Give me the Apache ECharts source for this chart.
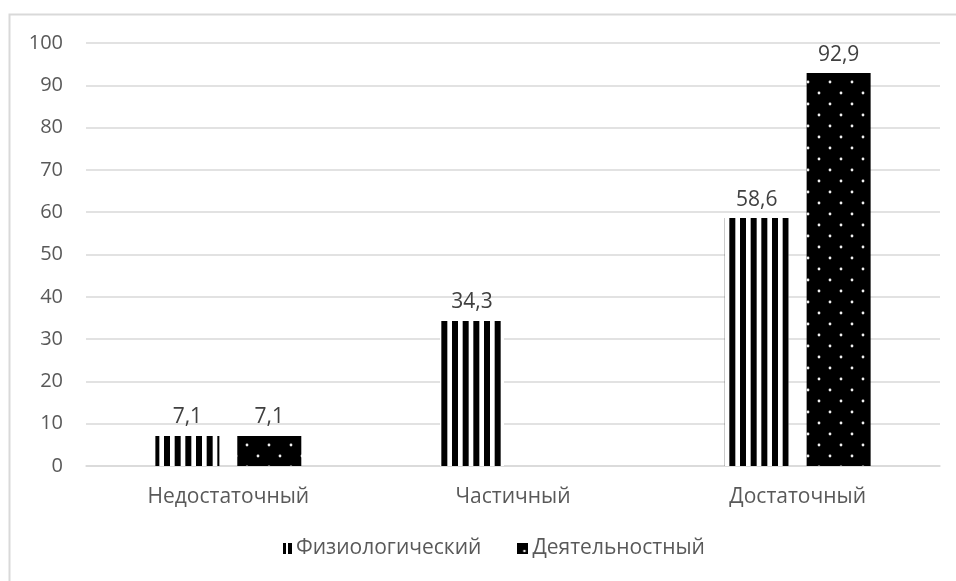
<!DOCTYPE html>
<html>
<head>
<meta charset="utf-8">
<script src="https://cdn.jsdelivr.net/npm/echarts@6/dist/echarts.min.js"></script>
<style>
  html, body { margin: 0; padding: 0; background: #fff; }
  #chart { width: 956px; height: 581px; }
</style>
</head>
<body>
<div id="chart"></div>
<script>
// Levels of formation and the share (%) for each component
const categories = ['Недостаточный', 'Частичный', 'Достаточный'];
const physValues = [7.1, 34.3, 58.6];
const activityValues = [7.1, null, 92.9];
const seriesNames = ['Физиологический', 'Деятельностный'];
const yTicks = { min: 0, max: 100, interval: 10 };

const FONT = '"Open Sans", "Noto Sans", sans-serif';

function makeCanvas(w, h, draw) {
  const c = document.createElement('canvas');
  c.width = w; c.height = h;
  draw(c.getContext('2d'));
  return c;
}

// Vertical black stripes on white
function stripePattern() {
  return makeCanvas(32, 4, g => {
    g.fillStyle = '#ffffff';
    g.fillRect(0, 0, 32, 4);
    g.fillStyle = '#000000';
    [4, 14.67, 25.33].forEach(x => g.fillRect(x, 0, 6, 4));
  });
}

// Black fill with small offset white dots
function dotPattern() {
  return makeCanvas(22, 22, g => {
    g.fillStyle = '#000000';
    g.fillRect(0, 0, 22, 22);
    g.fillStyle = '#f0f0f0';
    [[5, 5], [16, 16]].forEach(([x, y]) => {
      g.beginPath(); g.arc(x, y, 1.4, 0, Math.PI * 2); g.fill();
    });
  });
}

// Small legend swatches
const stripeIcon = makeCanvas(11, 11, g => {
  g.fillStyle = '#ffffff'; g.fillRect(0, 0, 11, 11);
  g.fillStyle = '#000000';
  g.fillRect(2, 0, 3, 11);
  g.fillRect(7, 0, 4, 11);
});
const dotIcon = makeCanvas(11, 11, g => {
  g.fillStyle = '#000000'; g.fillRect(0, 0, 11, 11);
  g.fillStyle = '#e8e8e8';
  g.beginPath(); g.arc(7, 8, 1.3, 0, Math.PI * 2); g.fill();
});

const chart = echarts.init(document.getElementById('chart'), null, { renderer: 'canvas' });

const labelStyle = {
  show: true,
  position: 'top',
  distance: 8,
  color: '#404040',
  fontFamily: FONT,
  fontSize: 21,
  formatter: p => String(p.value).replace('.', ',')
};

chart.setOption({
  backgroundColor: '#ffffff',
  animation: false,
  graphic: [{
    type: 'rect',
    shape: { x: 9.5, y: 14.5, width: 1200, height: 1200 },
    style: { fill: 'none', stroke: '#d9d9d9', lineWidth: 2 },
    silent: true,
    z: -1
  }],
  grid: { left: 86, right: 16, top: 43, bottom: 115, containLabel: false },
  legend: {
    bottom: 17,
    left: 276,
    itemWidth: 11,
    itemHeight: 11,
    itemGap: 36,
    textStyle: { color: '#595959', fontFamily: FONT, fontSize: 21, padding: [0, 0, 0, -1] },
    data: [
      { name: seriesNames[0], icon: 'image://' + stripeIcon.toDataURL() },
      { name: seriesNames[1], icon: 'image://' + dotIcon.toDataURL() }
    ]
  },
  xAxis: {
    type: 'category',
    data: categories,
    axisLine: { lineStyle: { color: '#d9d9d9', width: 1.5 } },
    axisTick: { show: false },
    axisLabel: { color: '#595959', fontFamily: FONT, fontSize: 21, margin: 21 }
  },
  yAxis: {
    type: 'value',
    min: yTicks.min,
    max: yTicks.max,
    interval: yTicks.interval,
    axisLine: { show: false },
    axisTick: { show: false },
    splitLine: { lineStyle: { color: '#d9d9d9', width: 1.5 } },
    axisLabel: { color: '#595959', fontFamily: FONT, fontSize: 20, margin: 23 }
  },
  series: [
    {
      name: seriesNames[0],
      type: 'bar',
      data: physValues,
      barWidth: 64,
      barGap: '28%',
      itemStyle: { color: { image: stripePattern(), repeat: 'repeat' } },
      label: labelStyle
    },
    {
      name: seriesNames[1],
      type: 'bar',
      data: activityValues,
      barWidth: 64,
      barGap: '28%',
      itemStyle: { color: { image: dotPattern(), repeat: 'repeat' } },
      label: labelStyle
    }
  ]
});
</script>
</body>
</html>
